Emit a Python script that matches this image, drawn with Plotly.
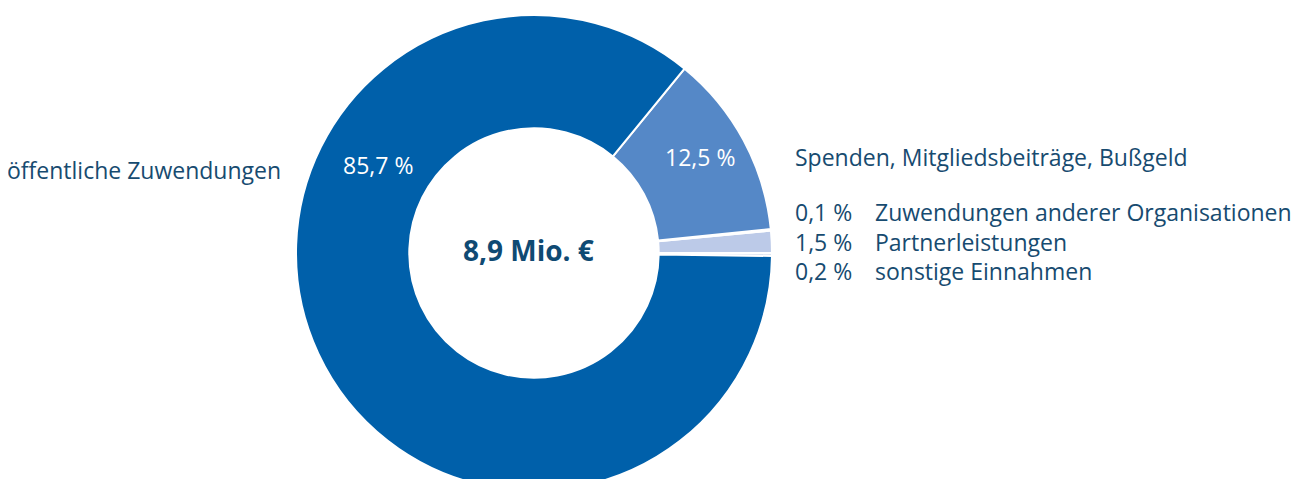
import plotly.graph_objects as go

# Data (counterclockwise from 3 o'clock)
labels = ["sonstige Einnahmen", "Partnerleistungen", "Zuwendungen anderer Organisationen",
          "Spenden, Mitgliedsbeiträge, Bußgeld", "öffentliche Zuwendungen"]
values = [0.2, 1.5, 0.1, 12.5, 85.7]
pct_text = ["0,2 %", "1,5 %", "0,1 %", "12,5 %", "85,7 %"]
colors = ["#dbe3f2", "#bccae8", "#e4e9f5", "#5588c7", "#0060aa"]
total_text = "8,9 Mio. €"

OFF = 8  # page body margin
W, H = 1307, 483
TXT = "#174b70"
FONT = "Open Sans"

fig = go.Figure(go.Pie(
    labels=labels, values=values, sort=False, direction="counterclockwise",
    rotation=90, hole=0.524, textinfo="none", hoverinfo="label+percent",
    marker=dict(colors=colors, line=dict(color="white", width=2)),
    domain=dict(x=[(296 - OFF) / W, (772 - OFF) / W], y=[0, 476 / H]),
    showlegend=False,
))

def px(x, y):
    return (x - OFF) / W, (H - (y - OFF)) / H

anns = []
def add(text, x, y, anchor="left", color=TXT, size=23, bold=False):
    xx, yy = px(x, y)
    t = f"<b>{text}</b>" if bold else text
    anns.append(dict(text=t, x=xx, y=yy, xref="paper", yref="paper",
                     xanchor=anchor, yanchor="middle", showarrow=False,
                     font=dict(family=FONT, size=size, color=color)))

# outside labels
add(labels[4], 283, 170, anchor="right")
add(labels[3], 793, 157)
rows = [(2, 212), (1, 242), (0, 271)]
for i, y in rows:
    add(pct_text[i], 793, y)
    add(labels[i], 873, y)

# inside labels
add(pct_text[4], 378, 165, anchor="center", color="white")
add(pct_text[3], 700, 157, anchor="center", color="white")
# center total
add(total_text, 528, 250, anchor="center", size=28, bold=True, color="#0f4a73")

fig.update_layout(
    width=W, height=H, margin=dict(l=0, r=0, t=0, b=0),
    paper_bgcolor="white", plot_bgcolor="white",
    annotations=anns,
)

fig.write_html("out.html")
